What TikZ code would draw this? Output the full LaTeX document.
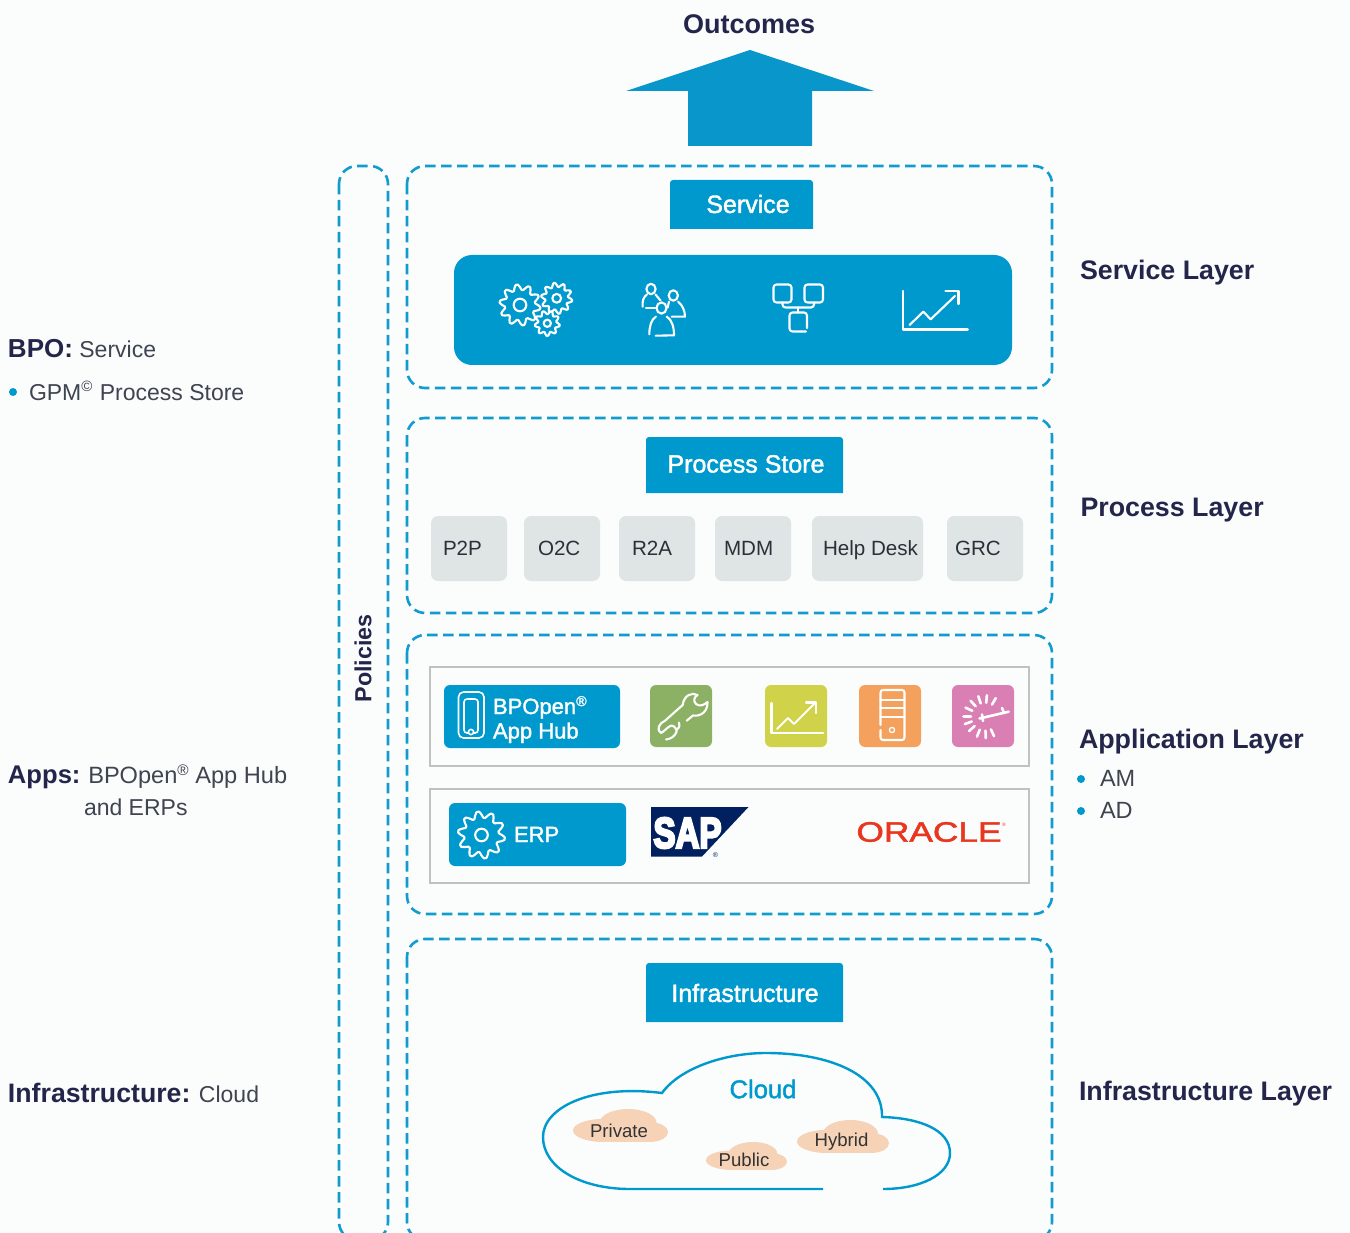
\documentclass[tikz,border=0pt]{standalone}
\usepackage{fontspec}
\setmainfont{Liberation Sans}
\newfontfamily\medf[FakeBold=1.6]{Liberation Sans}
\newfontfamily\heavyf[BoldFeatures={FakeBold=6}]{Liberation Sans}
\definecolor{bgc}{HTML}{FBFDFD}
\definecolor{bpblue}{HTML}{0099CE}
\definecolor{arrowblue}{HTML}{0896CB}
\definecolor{dashblue}{HTML}{129BCE}
\definecolor{navytext}{HTML}{23264A}
\definecolor{greytext}{HTML}{3E4450}
\definecolor{chipc}{HTML}{DFE5E4}
\definecolor{framec}{HTML}{BEC2C2}
\definecolor{peach}{HTML}{F6D2B6}
\definecolor{wrenchc}{HTML}{8DB164}
\definecolor{chartc}{HTML}{D0D24A}
\definecolor{serverc}{HTML}{F3A15D}
\definecolor{clockc}{HTML}{DA7FB3}
\definecolor{sapnavy}{HTML}{00205F}
\definecolor{oraclered}{HTML}{E8361F}
\newcommand{\fs}[1]{\fontsize{#1}{#1}\selectfont}
\newcommand{\rsym}{\raisebox{.36em}{\fontsize{.65em}{.65em}\selectfont ®}}
\newcommand{\gearicon}[6]{%
  \begin{scope}[shift={(#1,#2)}]
  \draw[icon,fill=#6] plot[smooth cycle,tension=.35,domain=0:360-360/(#4*6),samples=#4*6,variable=\t] ({#3*(0.87+0.13*max(-1,min(1,2.2*sin(#4*\t))))*cos(\t)},{#3*(0.87+0.13*max(-1,min(1,2.2*sin(#4*\t))))*sin(\t)});
  \draw[icon] (0,0) circle[radius=#5];
  \end{scope}}
\newcommand{\smallcloud}[4]{% left top w h
  \begin{scope}[shift={(#1,#2)},x=#3pt/100,y=-#4pt/100]
  \fill[peach] (32,65) ellipse[x radius=32,y radius=35];
  \fill[peach] (58,42) ellipse[x radius=30,y radius=42];
  \fill[peach] (83,70) ellipse[x radius=17,y radius=29];
  \fill[peach] (30,70) rectangle (85,99);
  \end{scope}}
\tikzset{
  layerbox/.style={draw=dashblue,line width=2.6pt,dash pattern=on 10.5pt off 5.5pt,rounded corners=18pt},
  hdr/.style={fill=bpblue,rounded corners=3pt},
  lbl/.style={anchor=base west,inner sep=0pt,outer sep=0pt},
  navy/.style={lbl,text=navytext,font=\fs{26.8}\bfseries},
  plain/.style={lbl,text=greytext,font=\fs{23}},
  hdrtext/.style={anchor=center,inner sep=0pt,text=white,font=\fs{25}\medf},
  chip/.style={fill=chipc,rounded corners=7pt},
  chiptext/.style={lbl,text=greytext!70!black,font=\fs{20.6}},
  icon/.style={draw=white,line width=2.1pt,line cap=round,line join=round},
  sbox/.style={rounded corners=6pt},
  frame/.style={draw=framec,line width=1.1pt},
  cloudtext/.style={anchor=center,inner sep=0pt,text=black!80,font=\fs{18.6}},
  bullet/.style={fill=bpblue},
}
\begin{document}
\begin{tikzpicture}[x=1pt,y=-1pt]
\useasboundingbox (0,0) rectangle (1350,1233);
\fill[bgc] (0,0) rectangle (1350,1233);
% outcome arrow
\fill[arrowblue] (626,91) -- (750,50) -- (874,91) -- (812,91) -- (812,146) -- (688,146) -- (688,91) -- cycle;
\node[navy,font=\fs{27}\bfseries] (outcomes) at (683,33.5) {Outcomes};
% dashed layers
\begin{scope}
\clip (0,0) rectangle (1350,1233);
\draw[layerbox] (339,166) rectangle (388,1240);
\draw[layerbox] (407,166) rectangle (1052,388);
\draw[layerbox] (407,418) rectangle (1052,613);
\draw[layerbox] (407,635) rectangle (1052,914);
\draw[layerbox] (407,939) rectangle (1052,1240);
\end{scope}
\node[anchor=center,rotate=90,inner sep=0pt,text=navytext,font=\fs{23.3}\bfseries] (policies) at (363,658.5) {Policies};
% service
\fill[hdr] (670,229) [rounded corners=3pt] -- (670,180) -- (813,180) [sharp corners] -- (813,229) -- cycle;
\node[hdrtext] (service) at (748,204) {Service};
\fill[bpblue,rounded corners=18pt] (454,255) rectangle (1012,365);
\gearicon{520}{305}{20.5}{10}{6.3}{bpblue}
\gearicon{556.7}{298.3}{15.5}{10}{4.4}{bpblue}
\gearicon{547.3}{323.3}{12.5}{9}{3.6}{bpblue}
% people
\draw[icon] (651,289) ellipse[x radius=4.6,y radius=5.2];
\draw[icon] (673.3,295.5) ellipse[x radius=4.6,y radius=5.2];
\draw[icon] (661.5,308) ellipse[x radius=5,y radius=5.6];
\draw[icon] (642.7,306.7) .. controls (642,301) and (643.5,297) .. (647,294.5);
\draw[icon] (655.5,294.5) -- (660.5,300.5);
\draw[icon] (646,307.7) -- (655,307.7);
\draw[icon] (669,301.5) -- (667.7,307.5);
\draw[icon] (678,301.5) .. controls (682.5,305) and (685,311) .. (685,316.7) -- (671.7,316.7);
\draw[icon] (649.3,334.3) .. controls (649.5,326) and (651,320) .. (656,316.5);
\draw[icon] (666.7,316.5) .. controls (672,320) and (674,327) .. (674,335.3) -- (655.7,335.7);
% network
\draw[icon,rounded corners=3pt] (773.5,284.5) rectangle (791.5,302.5);
\draw[icon,rounded corners=3pt] (804.5,284.5) rectangle (823,302.5);
\draw[icon,rounded corners=3pt] (782.5,302.5) -- (782.5,307.5) -- (814,307.5) -- (814,302.5);
\draw[icon] (798,307.5) -- (798,312.5);
\draw[icon,rounded corners=3pt] (807,328) -- (807,312.5) -- (789.5,312.5) -- (789.5,331.5) -- (806,331.5);
% chart
\draw[icon] (903,291) -- (903,329.5) -- (967.8,329.5);
\draw[icon] (909.6,325) -- (923.3,311.7) -- (930.7,319.3) -- (955,296);
\draw[icon] (945.5,290.7) -- (958.5,290.7) -- (958.5,304);
% process
\fill[hdr] (646,493) [rounded corners=3pt] -- (646,437) -- (843,437) [sharp corners] -- (843,493) -- cycle;
\node[hdrtext] (procstore) at (746,464) {Process Store};
\fill[chip] (431,516) rectangle (507,581);
\fill[chip] (524,516) rectangle (600,581);
\fill[chip] (619,516) rectangle (695,581);
\fill[chip] (715,516) rectangle (791,581);
\fill[chip] (812,516) rectangle (923,581);
\fill[chip] (947,516) rectangle (1023,581);
\node[chiptext] (p2p) at (443,555.5) {P2P};
\node[chiptext] (o2c) at (538,555.5) {O2C};
\node[chiptext] (r2a) at (632,555.5) {R2A};
\node[chiptext] (mdm) at (724,555.5) {MDM};
\node[chiptext] (help) at (823,555.5) {Help Desk};
\node[chiptext] (grc) at (955,555.5) {GRC};
% application frames
\draw[frame] (430,667) rectangle (1029,766);
\draw[frame] (430,789) rectangle (1029,883);
\fill[bpblue,sbox] (444,685) rectangle (620,748);
\draw[icon,rounded corners=5pt,line width=1.6pt] (458.5,692) rectangle (484,738);
\draw[icon,rounded corners=3pt,line width=1.6pt] (464,699) -- (478,699) -- (478,733) -- (464,733) -- cycle;
\draw[icon,fill=bpblue,line width=1.6pt] (471,732) circle[radius=2.6];
\node[lbl,text=white,font=\fs{22}\medf] (bpopen) at (493,714) {BPOpen\rsym};
\node[lbl,text=white,font=\fs{22}\medf] (apphub) at (493,738.5) {App Hub};
\fill[wrenchc,sbox] (650,685) rectangle (712,747);
\draw[icon] (697.5,695) .. controls (692,692) and (684,695) .. (682.7,705) -- (665,720.7) .. controls (659,723) and (656,730) .. (661,733) .. controls (665,731) and (667,727) .. (671.5,725.5) .. controls (675,726) and (677,730) .. (676.5,732) .. controls (675,736) and (671,739) .. (666,739.5);
\draw[icon] (676.5,730) .. controls (680,727) and (680,725) .. (679,722.5);
\draw[icon] (686.7,720.7) -- (693,715.5) .. controls (702,717) and (708,710) .. (707.5,702) .. controls (704,705) and (700,707) .. (696,704) .. controls (693,701) and (694,697) .. (697.5,695);
\fill[chartc,sbox] (765,685) rectangle (827,747);
\draw[icon] (771.5,703) -- (771.5,733) -- (823,733);
\draw[icon] (777,729) -- (788,718) -- (794,724) -- (815,703);
\draw[icon] (806,702.5) -- (816,702.5) -- (816,713);
\fill[serverc,sbox] (859,685) rectangle (921,747);
\draw[icon,rounded corners=2.5pt] (880.5,725) -- (880.5,690) -- (904.5,690) -- (904.5,740) -- (880.5,740) -- (880.5,730);
\draw[icon] (880.5,700) -- (904.5,700);
\draw[icon] (880.5,708.3) -- (904.5,708.3);
\draw[icon] (880.5,716.7) -- (904.5,716.7);
\draw[icon,line width=1.3pt] (892,730) circle[radius=2.6];
\fill[clockc,sbox] (952,685) rectangle (1014,747);
\foreach \a in {-60,-85,-108,-132,-155,-180,-200,-222,-248,-272,-295}
  \draw[icon,line width=2.6pt] (\a+0:14) ++(985,716.7) -- ++(\a+0:7.5);
\draw[icon,line width=2.6pt] (979.5,718.5) -- (1008.7,711.7);
\draw[icon,line width=2.6pt] (982,714.5) -- (983,721);
\draw[icon,line width=2.6pt] (1002,708) -- (1004,713);
% erp
\fill[bpblue,sbox] (449,803) rectangle (626,866);
\gearicon{481.5}{835}{23.5}{10}{6.3}{bpblue}
\node[lbl,text=white,font=\fs{22}\medf] (erp) at (514,842) {ERP};
\fill[sapnavy] (651,807) -- (748.5,807) -- (702,856.5) -- (651,856.5) -- cycle;
\node[anchor=center,inner sep=0pt,text=white,xscale=.77,font=\fs{43}\heavyf\bfseries] (sap) at (687.5,833) {SAP};
\node[anchor=center,inner sep=0pt,text=sapnavy,font=\fs{7}] (sapreg) at (715.5,855.5) {®};
\node[anchor=center,inner sep=0pt,text=oraclered,xscale=1.26,font=\fs{28}\medf] (oracle) at (929,832) {ORACLE};
\node[anchor=center,inner sep=0pt,text=oraclered,font=\fs{5}] (orareg) at (1004,825) {®};
% infrastructure
\fill[hdr] (646,1022) [rounded corners=3pt] -- (646,963) -- (843,963) [sharp corners] -- (843,1022) -- cycle;
\node[hdrtext] (infra) at (745,993) {Infrastructure};
\draw[bpblue,line width=2.4pt] (823,1189) -- (630,1189) .. controls (580,1189) and (543,1167) .. (543,1137) .. controls (543,1108) and (590,1084) .. (662,1093) .. controls (680,1068) and (725,1053) .. (766,1053) .. controls (830,1053) and (883,1075) .. (882,1117) .. controls (920,1118) and (950,1130) .. (950,1153) .. controls (950,1175) and (920,1189) .. (883,1189);
\node[anchor=center,inner sep=0pt,text=bpblue,font=\fs{25.6}\medf] (cloud) at (763,1089) {Cloud};
\smallcloud{573}{1109}{95}{33}
\smallcloud{706}{1142}{81}{28}
\smallcloud{797}{1120}{92}{33}
\node[cloudtext] (private) at (619,1131) {Private};
\node[cloudtext] (public) at (744,1160) {Public};
\node[cloudtext] (hybrid) at (841.5,1141.5) {Hybrid};
% right labels
\node[navy] (l1) at (1080,279.5) {Service Layer};
\node[navy] (l2) at (1080.5,516) {Process Layer};
\node[navy] (l3) at (1079,748) {Application Layer};
\fill[bullet] (1081,779) circle[radius=4];
\fill[bullet] (1081,811) circle[radius=4];
\node[plain,font=\fs{23.5}] (am) at (1100,786) {AM};
\node[plain,font=\fs{23.5}] (ad) at (1100,818) {AD};
\node[navy] (l4) at (1079,1100) {Infrastructure Layer};
% left labels
\node[lbl,text=greytext,font=\fs{23}] (bpo) at (8,357.5) {\textcolor{navytext}{\fs{26}\bfseries BPO:} Service};
\fill[bullet] (13,392) circle[radius=4];
\node[plain] (gpm) at (29,400) {GPM\raisebox{.36em}{\fs{15}©}\hspace{1pt} Process Store};
\node[lbl,text=greytext,font=\fs{23.6}] (apps) at (8,783.5) {\textcolor{navytext}{\fs{25.6}\bfseries Apps:}\hspace{-1pt} BPOpen\rsym{} App Hub};
\node[plain] (erps) at (84,815) {and ERPs};
\node[lbl,text=greytext,font=\fs{23}] (inf) at (8,1102) {\textcolor{navytext}{\fs{26.7}\bfseries Infrastructure:} Cloud};
\end{tikzpicture}
\end{document}
